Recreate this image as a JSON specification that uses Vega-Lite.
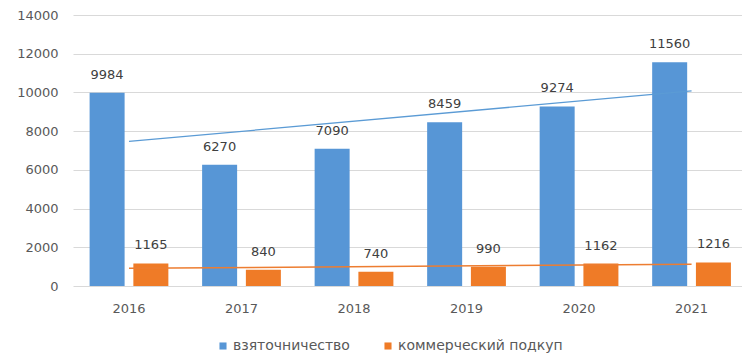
{
  "$schema": "https://vega.github.io/schema/vega-lite/v6.json",
  "width": 669,
  "height": 271,
  "autosize": "none",
  "padding": {"left": 73, "top": 15, "right": 0, "bottom": 72},
  "background": "white",
  "config": {
    "view": {"stroke": null},
    "font": "DejaVu Sans",
    "axis": {"labelFont": "DejaVu Sans", "labelFontSize": 13, "labelColor": "#595959"},
    "legend": {"labelFont": "DejaVu Sans", "labelFontSize": 14, "labelColor": "#595959", "labelLimit": 400}
  },
  "data": {
    "values": [
      {"year": 2016, "series": "взяточничество", "value": 9984},
      {"year": 2017, "series": "взяточничество", "value": 6270},
      {"year": 2018, "series": "взяточничество", "value": 7090},
      {"year": 2019, "series": "взяточничество", "value": 8459},
      {"year": 2020, "series": "взяточничество", "value": 9274},
      {"year": 2021, "series": "взяточничество", "value": 11560},
      {"year": 2016, "series": "коммерческий подкуп", "value": 1165},
      {"year": 2017, "series": "коммерческий подкуп", "value": 840},
      {"year": 2018, "series": "коммерческий подкуп", "value": 740},
      {"year": 2019, "series": "коммерческий подкуп", "value": 990},
      {"year": 2020, "series": "коммерческий подкуп", "value": 1162},
      {"year": 2021, "series": "коммерческий подкуп", "value": 1216}
    ]
  },
  "encoding": {
    "x": {
      "field": "year",
      "type": "ordinal",
      "scale": {"paddingInner": 0.3, "paddingOuter": 0.123, "align": 0.6},
      "axis": {"title": null, "labelAngle": 0, "ticks": false, "domain": false, "labelPadding": 16, "grid": false}
    },
    "y": {
      "field": "value",
      "type": "quantitative",
      "scale": {"domain": [0, 14000], "nice": false},
      "axis": {"title": null, "values": [0, 2000, 4000, 6000, 8000, 10000, 12000, 14000], "format": "d", "ticks": false, "domain": false, "labelPadding": 15, "gridColor": "#d9d9d9", "gridWidth": 1}
    }
  },
  "layer": [
    {
      "mark": {"type": "bar"},
      "encoding": {
        "xOffset": {"field": "series", "type": "nominal", "scale": {"domain": ["взяточничество", "коммерческий подкуп"], "paddingInner": 0.2}},
        "color": {
          "field": "series",
          "type": "nominal",
          "scale": {"domain": ["взяточничество", "коммерческий подкуп"], "range": ["#5796d6", "#ef7b27"]},
          "legend": {
            "title": null,
            "orient": "none",
            "legendX": 143,
            "legendY": 324,
            "direction": "horizontal",
            "symbolType": "square",
            "symbolSize": 50,
            "symbolStrokeWidth": 0,
            "labelOffset": 3,
            "columnPadding": 31,
            "labelLimit": 400
          }
        }
      }
    },
    {
      "mark": {"type": "text", "baseline": "middle", "dy": -18, "fontSize": 13, "color": "#404040"},
      "encoding": {
        "xOffset": {"field": "series", "type": "nominal"},
        "text": {"field": "value", "type": "quantitative", "format": "d"}
      }
    },
    {
      "transform": [
        {"filter": "datum.series === 'взяточничество'"},
        {"regression": "value", "on": "year"}
      ],
      "mark": {"type": "line", "color": "#5b9bd5", "strokeWidth": 1.3},
      "encoding": {}
    },
    {
      "transform": [
        {"filter": "datum.series === 'коммерческий подкуп'"},
        {"regression": "value", "on": "year"}
      ],
      "mark": {"type": "line", "color": "#ed7d31", "strokeWidth": 1.5},
      "encoding": {}
    }
  ]
}
